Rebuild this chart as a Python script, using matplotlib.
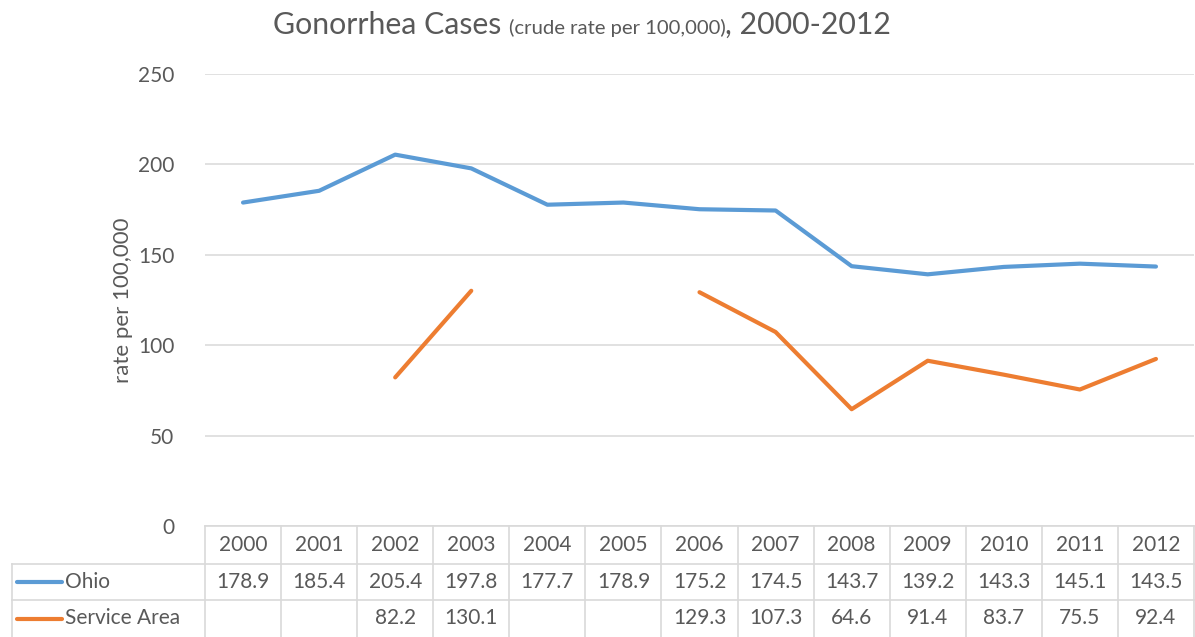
import numpy as np
import matplotlib
matplotlib.use("Agg")
import matplotlib.pyplot as plt
from matplotlib.transforms import blended_transform_factory

years = ["2000", "2001", "2002", "2003", "2004", "2005", "2006",
         "2007", "2008", "2009", "2010", "2011", "2012"]
ohio = [178.9, 185.4, 205.4, 197.8, 177.7, 178.9, 175.2,
        174.5, 143.7, 139.2, 143.3, 145.1, 143.5]
service_area = [np.nan, np.nan, 82.2, 130.1, np.nan, np.nan, 129.3,
                107.3, 64.6, 91.4, 83.7, 75.5, 92.4]
series_names = ["Ohio", "Service Area"]
yticks = [0, 50, 100, 150, 200, 250]

BLUE = "#5b9bd5"
ORANGE = "#ed7d31"
TXT = "#595959"
GRID = "#d9d9d9"
FONT = "Lato"
plt.rcParams['font.family'] = [FONT, 'DejaVu Sans']

W, H = 1195, 637
fig = plt.figure(figsize=(W / 100, H / 100), dpi=100)
L, R, Bpx, Tpx = 205, 1194, 526, 74
ax = fig.add_axes([L / W, (H - Bpx) / H, (R - L) / W, (Bpx - Tpx) / H])

x = np.arange(len(years))
ax.plot(x, ohio, color=BLUE, lw=3.0, solid_joinstyle='round', solid_capstyle='round', zorder=3)
ax.plot(x, service_area, color=ORANGE, lw=3.0, solid_joinstyle='round', solid_capstyle='round', zorder=3)

ax.set_xlim(-0.5, len(years) - 0.5)
ax.set_ylim(0, 250)
ax.set_yticks(yticks)
ax.set_yticklabels([str(v) for v in yticks], fontsize=15, color=TXT)
ax.tick_params(axis='y', length=0, pad=22)
ax.set_xticks([])
for s in ax.spines.values():
    s.set_visible(False)
ax.grid(axis='y', color=GRID, lw=1.1)
ax.set_axisbelow(True)
ax.set_ylabel("rate per 100,000", fontsize=16, color=TXT)
ax.yaxis.set_label_coords(-0.073, 0.5)

# data table
tr = blended_transform_factory(ax.transData, ax.transAxes)
px_per_unit = (R - L) / len(years)
ax_h = Bpx - Tpx
def yfrac(py):
    return (Bpx - py) / ax_h
def xdata(px):
    return -0.5 + (px - L) / px_per_unit

rows_px = [526, 564, 600, 637]
left_px = 12
lkw = dict(color=GRID, lw=1.2, transform=tr, clip_on=False)
ax.plot([-0.5, len(years) - 0.5], [yfrac(rows_px[0])] * 2, **lkw)
for rp in rows_px[1:3]:
    ax.plot([xdata(left_px), len(years) - 0.5], [yfrac(rp)] * 2, **lkw)
for i in range(len(years) + 1):
    ax.plot([i - 0.5] * 2, [yfrac(rows_px[0]), yfrac(rows_px[3])], **lkw)
ax.plot([xdata(left_px)] * 2, [yfrac(rows_px[1]), yfrac(rows_px[3])], **lkw)

tkw = dict(fontsize=15, color=TXT, transform=tr, ha='center', va='center', clip_on=False)
yc = [yfrac((rows_px[i] + rows_px[i + 1]) / 2) for i in range(3)]
for i, yr in enumerate(years):
    ax.text(i, yc[0], yr, **tkw)
for i, v in enumerate(ohio):
    if not np.isnan(v):
        ax.text(i, yc[1], f"{v:.1f}", **tkw)
for i, v in enumerate(service_area):
    if not np.isnan(v):
        ax.text(i, yc[2], f"{v:.1f}", **tkw)

for name, col, yy in zip(series_names, [BLUE, ORANGE], yc[1:]):
    ax.plot([xdata(17), xdata(62)], [yy, yy], color=col, lw=3.0,
            solid_capstyle='round', transform=tr, clip_on=False)
    ax.text(xdata(65), yy, name, fontsize=15, color=TXT, transform=tr,
            ha='left', va='center', clip_on=False)

# title in three pieces
pieces = [("Gonorrhea Cases ", 21.8), ("(crude rate per 100,000)", 14.6), (", 2000-2012", 21.8)]
renderer = fig.canvas.get_renderer()
widths = []
for s, fs in pieces:
    t = fig.text(0, 0, s, fontsize=fs, color=TXT)
    widths.append(t.get_window_extent(renderer).width)
    t.remove()
total = sum(widths)
cx = 582
base_y = H - 34
xcur = cx - total / 2
for (s, fs), w in zip(pieces, widths):
    fig.text(xcur / W, base_y / H, s, fontsize=fs, color=TXT, va='baseline', ha='left')
    xcur += w

fig.savefig("out.png", dpi=100)
